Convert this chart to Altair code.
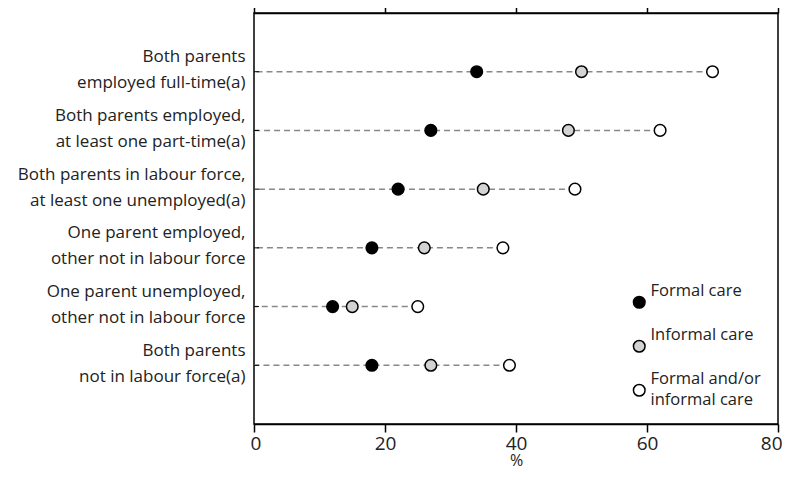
import altair as alt
import pandas as pd

categories = [
    "Both parents|employed full-time(a)",
    "Both parents employed,|at least one part-time(a)",
    "Both parents in labour force,|at least one unemployed(a)",
    "One parent employed,|other not in labour force",
    "One parent unemployed,|other not in labour force",
    "Both parents|not in labour force(a)",
]
series = ["Formal care", "Informal care", "Formal and/or informal care"]
formal = [34, 27, 22, 18, 12, 18]
informal = [50, 48, 35, 26, 15, 27]
either = [70, 62, 49, 38, 25, 39]
x_ticks = [0, 20, 40, 60, 80]

rows = []
for i, c in enumerate(categories):
    for s, vals in zip(series, [formal, informal, either]):
        rows.append({"category": c, "series": s, "value": vals[i]})
df = pd.DataFrame(rows)
lines = pd.DataFrame({"category": categories,
                      "maxv": [max(a, b, c) for a, b, c in zip(formal, informal, either)]})

FONT = "Open Sans"
TXT = "#222222"

yaxis = alt.Axis(title=None, domain=False, ticks=False,
                 labelExpr="split(datum.label, '|')",
                 labelFont=FONT, labelFontSize=17, labelColor=TXT,
                 labelLineHeight=26, labelPadding=9, labelAlign="right",
                 labelBaseline="middle", labelOffset=-15, labelLimit=400)
yenc = alt.Y("category:N", sort=categories,
             scale=alt.Scale(type="point", padding=1), axis=yaxis)

xscale = alt.Scale(domain=[0, 80], nice=False)

dash = alt.Chart(lines).mark_rule(color="#888888", strokeWidth=1.5, strokeDash=[6, 4]).encode(
    x=alt.X("maxv:Q", scale=xscale, axis=None),
    x2=alt.value(0),
    y=yenc,
)

lefttick = alt.Chart(lines).mark_rule(color="black", strokeWidth=1).encode(
    x=alt.value(0), x2=alt.value(5), y=yenc,
)

pts = alt.Chart(df).mark_point(filled=True, shape="circle", size=135, stroke="black",
                               strokeWidth=1.5, opacity=1).encode(
    x=alt.X("value:Q", scale=xscale,
            axis=alt.Axis(orient="bottom", values=x_ticks, title="%", grid=False,
                          tickSize=8, tickColor="black", domainColor="black",
                          labelFlush=1, labelFlushOffset=4,
                          labelFont=FONT, labelFontSize=19, labelColor=TXT,
                          titleFont=FONT, titleFontSize=16, titleColor=TXT,
                          titleFontWeight="normal", titleBaseline="bottom", titleY=44,
                          labelPadding=2)),
    y=yenc,
    fill=alt.Fill("series:N", sort=series,
                  scale=alt.Scale(domain=series, range=["black", "#d3d3d3", "white"]),
                  legend=alt.Legend(title=None, orient="none", legendX=377, legendY=281,
                                    symbolSize=135, symbolStrokeColor="black",
                                    symbolStrokeWidth=1.5, symbolType="circle",
                                    labelFont=FONT, labelFontSize=16.5, labelColor=TXT,
                                    labelBaseline="line-bottom", gridAlign="all",
                                    labelOffset=3, rowPadding=6,
                                    labelExpr="datum.label == 'Formal and/or informal care' ? ['Formal and/or', 'informal care'] : datum.label")),
)

toprule = alt.Chart(lines).mark_point(opacity=0).encode(
    x=alt.X("maxv:Q", scale=xscale,
            axis=alt.Axis(orient="top", values=x_ticks, labels=False, title=None, grid=False,
                          tickSize=8, tickColor="black", domainColor="black")),
    y=yenc,
)

chart = alt.layer(dash, lefttick, toprule, pts).resolve_axis(x="independent").properties(
    width=524, height=411,
    autosize=alt.AutoSizeParams(type="none"),
    padding={"left": 246, "top": 5, "right": 4, "bottom": 45},
).configure(
    style={"guide-label": {"lineHeight": 21}}
).configure_view(stroke="black", strokeWidth=1.5).configure_axis(
    domainWidth=1.5, tickWidth=1.5
)

chart.save("out.html", embed_options={"renderer": "svg", "actions": False})
